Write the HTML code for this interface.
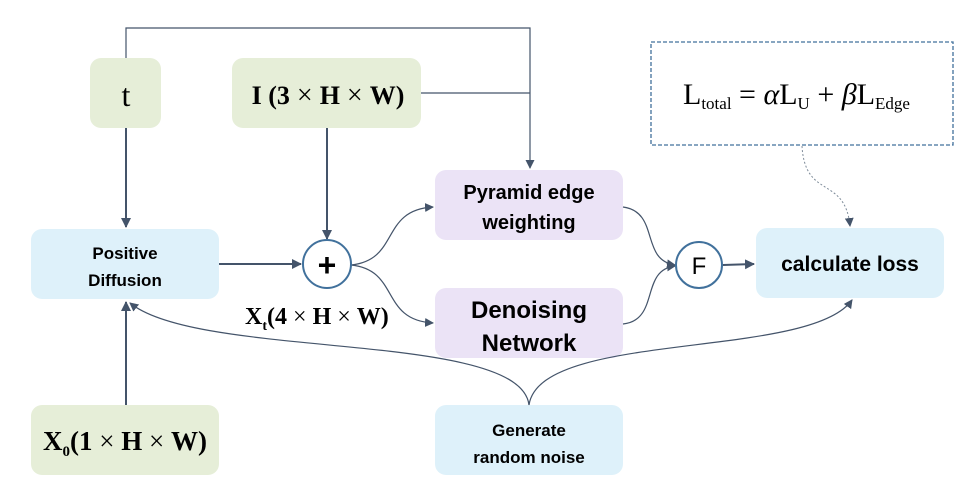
<!DOCTYPE html>
<html><head><meta charset="utf-8"><style>
html,body{margin:0;padding:0;background:#fff;}
svg{display:block;}
.s{font-family:"Liberation Sans",sans-serif;font-weight:bold;fill:#000;text-anchor:middle;}
.m{font-family:"Liberation Serif",serif;fill:#000;}
</style></head><body>
<svg width="980" height="500" viewBox="0 0 980 500" xmlns="http://www.w3.org/2000/svg">
<defs>
<marker id="a" markerWidth="10" markerHeight="10" refX="9" refY="5" orient="auto" markerUnits="userSpaceOnUse"><path d="M0,0 L10,5 L0,10 z" fill="#44546a"/></marker>
<marker id="b" markerWidth="9" markerHeight="9" refX="8" refY="4.5" orient="auto" markerUnits="userSpaceOnUse"><path d="M0,0 L9,4.5 L0,9 z" fill="#44546a"/></marker>
</defs>
<rect x="90" y="58" width="71" height="70" rx="11" fill="#e6eed8"/>
<rect x="232" y="58" width="189" height="70" rx="11" fill="#e6eed8"/>
<rect x="435" y="170" width="188" height="70" rx="11" fill="#ebe3f6"/>
<rect x="435" y="288" width="188" height="70" rx="11" fill="#ebe3f6"/>
<rect x="31" y="229" width="188" height="70" rx="11" fill="#def1fa"/>
<rect x="756" y="228" width="188" height="70" rx="11" fill="#def1fa"/>
<rect x="31" y="405" width="188" height="70" rx="11" fill="#e6eed8"/>
<rect x="435" y="405" width="188" height="70" rx="11" fill="#def1fa"/>
<rect x="651" y="42" width="302" height="103" fill="none" stroke="#41719c" stroke-width="1.3" stroke-dasharray="4,2"/>
<g stroke="#44546a" fill="none">
<polyline points="126,58 126,28 530,28 530,168" stroke-width="1.2" marker-end="url(#b)"/>
<line x1="421" y1="93" x2="530" y2="93" stroke-width="1.2"/>
<line x1="126" y1="128" x2="126" y2="227" stroke-width="2" marker-end="url(#a)"/>
<line x1="327" y1="128" x2="327" y2="239" stroke-width="2" marker-end="url(#a)"/>
<line x1="219" y1="264" x2="301" y2="264" stroke-width="2" marker-end="url(#a)"/>
<line x1="126" y1="405" x2="126" y2="302" stroke-width="2" marker-end="url(#a)"/>
<path d="M351,265 C400,260 380,210 433,207" stroke-width="1.2" marker-end="url(#b)"/>
<path d="M351,265 C400,270 380,320 433,323" stroke-width="1.2" marker-end="url(#b)"/>
<path d="M623,207 C660,212 640,260 675,265" stroke-width="1.2" marker-end="url(#b)"/>
<path d="M623,324 C660,320 640,270 675,266" stroke-width="1.2" marker-end="url(#b)"/>
<line x1="723" y1="265" x2="754" y2="264" stroke-width="2" marker-end="url(#a)"/>
<path d="M529,405 C520,330 200,360 130,303" stroke-width="1.2" marker-end="url(#b)"/>
<path d="M529,405 C540,330 810,360 852,300" stroke-width="1.2" marker-end="url(#b)"/>
<path d="M802,146 C805,200 845,175 850,226" stroke="#7f8c9a" stroke-width="1" stroke-dasharray="2,2" marker-end="url(#b)"/>
</g>
<circle cx="327" cy="264" r="24" fill="#fff" stroke="#41719c" stroke-width="2"/>
<circle cx="699" cy="265" r="23" fill="#fff" stroke="#41719c" stroke-width="2"/>
<text x="327" y="276" class="s" font-size="32" font-weight="normal">+</text>
<text x="699" y="274" font-family="Liberation Sans,sans-serif" font-size="24" text-anchor="middle">F</text>
<text x="126" y="106" class="m" font-size="32" text-anchor="middle">t</text>
<text x="328" y="104" class="m" font-size="26" font-weight="bold" text-anchor="middle">I (3<tspan font-weight="normal" font-size="28"> × </tspan>H<tspan font-weight="normal" font-size="28"> × </tspan>W)</text>
<text x="529" y="199" class="s" font-size="20">Pyramid edge</text>
<text x="529" y="229" class="s" font-size="20">weighting</text>
<text x="529" y="318" class="s" font-size="24">Denoising</text>
<text x="529" y="351" class="s" font-size="24">Network</text>
<text x="125" y="259" class="s" font-size="17">Positive</text>
<text x="125" y="286" class="s" font-size="17">Diffusion</text>
<text x="850" y="271" class="s" font-size="21">calculate loss</text>
<text x="529" y="436" class="s" font-size="17" font-weight="normal">Generate</text>
<text x="529" y="463" class="s" font-size="17" font-weight="normal">random noise</text>
<text x="125" y="450" class="m" font-size="27" font-weight="bold" text-anchor="middle">X<tspan font-size="15" dy="6">0</tspan><tspan dy="-6">(1</tspan><tspan font-weight="normal"> × </tspan>H<tspan font-weight="normal"> × </tspan>W)</text>
<text x="245" y="324" class="m" font-size="24" font-weight="bold">X<tspan font-size="14" dy="6">t</tspan><tspan dy="-6">(4</tspan><tspan font-weight="normal"> × </tspan>H<tspan font-weight="normal"> × </tspan>W)</text>
<text x="683" y="104" class="m" font-size="30">L<tspan font-size="17" dy="5">total</tspan><tspan dy="-5"> = </tspan><tspan font-style="italic">α</tspan>L<tspan font-size="17" dy="5">U</tspan><tspan dy="-5"> + </tspan><tspan font-style="italic">β</tspan>L<tspan font-size="17" dy="5">Edge</tspan></text>
</svg>
</body></html>
